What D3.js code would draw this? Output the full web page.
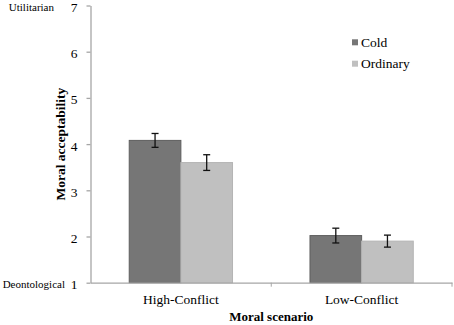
<!DOCTYPE html>
<html>
<head>
<meta charset="utf-8">
<script src="https://cdn.jsdelivr.net/npm/d3@7"></script>
<style>
  html, body { margin: 0; padding: 0; background: #fff; }
  svg text { font-family: 'Liberation Serif', 'Times New Roman', serif; fill: #000; }
</style>
</head>
<body>
<div id="chart"></div>
<script>
// Chart data
const scenarios = ['High-Conflict', 'Low-Conflict'];
const conditions = ['Cold', 'Ordinary'];
const coldMeans = [4.08, 2.02];
const coldErrors = [0.15, 0.16];
const ordinaryMeans = [3.60, 1.90];
const ordinaryErrors = [0.17, 0.13];
const yTicks = [1, 2, 3, 4, 5, 6, 7];

const width = 454;
const height = 325;
const margin = { top: 5.5, right: 2, bottom: 42.3, left: 90.5 };

const colors = { Cold: '#767676', Ordinary: '#c0c0c0' };
const strokes = { Cold: '#5e5e5e', Ordinary: '#b4b4b4' };

const svg = d3.select('#chart')
    .append('svg')
    .attr('width', width)
    .attr('height', height);

const plotWidth = width - margin.left - margin.right;
const plotHeight = height - margin.top - margin.bottom;

const plotArea = svg.append('g')
    .attr('transform', `translate(${margin.left},${margin.top})`);

// Scales
const x0 = d3.scaleBand()
    .domain(scenarios)
    .range([0, plotWidth]);

const x1 = d3.scaleBand()
    .domain(conditions)
    .range([0, x0.bandwidth()])
    .paddingOuter(0.75)
    .paddingInner(0);

const y = d3.scaleLinear()
    .domain([1, 7])
    .range([plotHeight, 0]);

// Build rows for bars
const rows = [];
scenarios.forEach((s, i) => {
    rows.push({ scenario: s, condition: 'Cold', mean: coldMeans[i], err: coldErrors[i] });
    rows.push({ scenario: s, condition: 'Ordinary', mean: ordinaryMeans[i], err: ordinaryErrors[i] });
});

// Bars
plotArea.selectAll('.bar')
    .data(rows)
    .enter()
    .append('rect')
    .attr('class', 'bar')
    .attr('x', d => x0(d.scenario) + x1(d.condition))
    .attr('y', d => y(d.mean))
    .attr('width', x1.bandwidth())
    .attr('height', d => plotHeight - y(d.mean))
    .style('fill', d => colors[d.condition])
    .style('stroke', d => strokes[d.condition])
    .style('stroke-width', 1);

// Error bars
const capHalf = 3.5;
const errG = plotArea.selectAll('.err')
    .data(rows)
    .enter()
    .append('g')
    .attr('class', 'err')
    .attr('transform', d => `translate(${x0(d.scenario) + x1(d.condition) + x1.bandwidth() / 2},0)`)
    .style('stroke', '#111')
    .style('stroke-width', 1.3);

errG.append('line')
    .attr('x1', 0).attr('x2', 0)
    .attr('y1', d => y(d.mean + d.err))
    .attr('y2', d => y(d.mean - d.err));
errG.append('line')
    .attr('x1', -capHalf).attr('x2', capHalf)
    .attr('y1', d => y(d.mean + d.err))
    .attr('y2', d => y(d.mean + d.err));
errG.append('line')
    .attr('x1', -capHalf).attr('x2', capHalf)
    .attr('y1', d => y(d.mean - d.err))
    .attr('y2', d => y(d.mean - d.err));

// Y axis
plotArea.append('g')
    .attr('class', 'y-axis')
    .call(d3.axisLeft(y).tickValues(yTicks).tickSize(4).tickSizeOuter(0).tickPadding(9)
        .tickFormat(d3.format('d')));

// X axis
plotArea.append('g')
    .attr('class', 'x-axis')
    .attr('transform', `translate(0,${plotHeight})`)
    .call(d3.axisBottom(x0).tickSize(0).tickPadding(12));

// Category boundary ticks
plotArea.selectAll('.cat-tick')
    .data(scenarios)
    .enter()
    .append('line')
    .attr('class', 'cat-tick')
    .attr('x1', d => x0(d) + x0.bandwidth())
    .attr('x2', d => x0(d) + x0.bandwidth())
    .attr('y1', plotHeight)
    .attr('y2', plotHeight + 4)
    .style('stroke', '#a6a6a6');

svg.selectAll('.domain, .tick line')
    .style('stroke', '#a6a6a6')
    .style('stroke-width', 1.3);

svg.selectAll('.tick text')
    .style('font-family', "'Liberation Serif', serif")
    .style('font-size', '13.5px')
    .style('fill', '#000');

// nudge the value labels down a little, like the reference
svg.selectAll('.y-axis .tick text')
    .attr('dy', '0.45em');

// Y end labels
svg.append('text')
    .attr('x', 54)
    .attr('y', 11)
    .attr('text-anchor', 'end')
    .style('font-size', '11px')
    .text('Utilitarian');

svg.append('text')
    .attr('x', 65)
    .attr('y', y(1) + margin.top + 5)
    .attr('text-anchor', 'end')
    .style('font-size', '11px')
    .text('Deontological');

// Axis titles
svg.append('text')
    .attr('transform', `translate(65,${margin.top + y(4)}) rotate(-90)`)
    .attr('text-anchor', 'middle')
    .style('font-size', '13.5px')
    .style('font-weight', 'bold')
    .text('Moral acceptability');

svg.append('text')
    .attr('x', margin.left + plotWidth / 2)
    .attr('y', 321)
    .attr('text-anchor', 'middle')
    .style('font-size', '13px')
    .style('font-weight', 'bold')
    .text('Moral scenario');

// Legend
const legend = svg.append('g')
    .attr('transform', 'translate(352,0)');

const legendItems = legend.selectAll('.legend-item')
    .data(conditions)
    .enter()
    .append('g')
    .attr('class', 'legend-item')
    .attr('transform', (d, i) => `translate(0,${42.3 + i * 21.4})`);

legendItems.append('rect')
    .attr('x', 0)
    .attr('y', -3)
    .attr('width', 6)
    .attr('height', 6)
    .style('fill', d => colors[d]);

legendItems.append('text')
    .attr('x', 9)
    .attr('y', 4.5)
    .style('font-size', '13.5px')
    .text(d => d);
</script>
</body>
</html>
